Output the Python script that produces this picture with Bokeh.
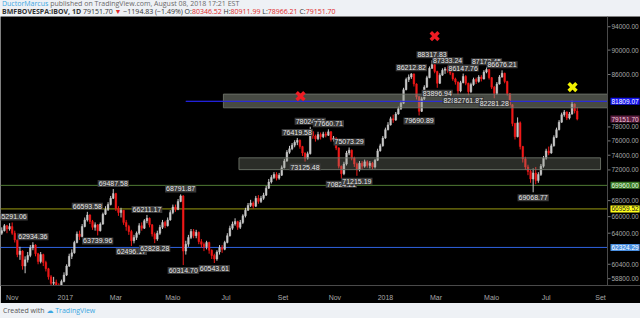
from bokeh.plotting import figure
from bokeh.models import Range1d, FixedTicker, Label, Div, ColumnDataSource, Span
from bokeh.layouts import column
from bokeh.embed import file_html
from bokeh.resources import INLINE

# ---------------- data ----------------
first_open = 64000
closes = [64300, 64900, 64500, 64800, 64000, 63200, 61500, 61900, 60200, 60900,
          61400, 62300, 62600, 61600, 60700, 61500, 60600, 59900, 59000, 58300,
          58400, 58100, 57900, 58500, 59200, 60200, 61300, 61700, 62900, 63900,
          63600, 64800, 65600, 66200, 65400, 64700, 65000, 64300, 65100, 66300,
          66900, 67500, 68300, 68900, 67000, 66500, 66800, 65300, 64800, 64200,
          63100, 63500, 64000, 64900, 64600, 65500, 65800, 65000, 63900, 63300,
          64000, 64700, 65300, 64900, 65600, 66500, 67200, 66900, 67900, 68600,
          61900, 62700, 63500, 64200, 63700, 64100, 63000, 62700, 62400, 62900,
          62000, 61400, 61000, 61800, 62300, 62100, 62900, 63700, 64600, 65100,
          65400, 64700, 65300, 66100, 66800, 67400, 67700, 67300, 68300, 67900,
          68300, 68700, 69600, 70400, 71000, 71400, 70900, 71300, 72300, 73200,
          74400, 74900, 75400, 75800, 76100, 75200, 74300, 73600, 74200, 77300,
          76700, 76300, 76900, 76600, 77000, 76800, 77300, 76200, 76400, 75000,
          72500, 71500, 72800, 74300, 74700, 73600, 72800, 72000, 72900, 72500,
          73100, 72600, 72900, 72400, 73300, 74600, 75300, 76400, 77600, 78300,
          79200, 79000, 79900, 80700, 81500, 83600, 85200, 85600, 86100, 84500,
          82500, 80300, 82200, 84000, 85500, 87000, 87600, 86500, 84600, 85900,
          86700, 86900, 86600, 86200, 85300, 84800, 83400, 84700, 85700, 84600,
          83300, 84400, 85200, 84900, 85600, 85300, 86400, 86800, 85500, 84000,
          83000, 84500, 85600, 86200, 84900, 83000, 81300, 78500, 76600, 78600,
          75200, 73500, 72400, 71800, 70800, 71600, 70600, 71400, 72500, 73600,
          74600, 74300, 75300, 76500, 77600, 78700, 79800, 80200, 79300, 79900,
          81400, 80346.52, 79151.70]
highs = [64700, 65100, 65000, 65200, 65291.06, 64300, 63300, 62400, 62000, 61300,
         61800, 62600, 62934.36, 62700, 61700, 61800, 61600, 60800, 60000, 59200,
         59000, 58700, 58300, 58700, 59500, 60400, 61600, 62100, 63100, 64200,
         64300, 65100, 65900, 66593.58, 66300, 65600, 65300, 65100, 65300, 66500,
         67300, 67800, 68600, 69487.58, 69000, 67300, 67100, 66800, 65600, 65000,
         64400, 63800, 64200, 65200, 65300, 65700, 66211.17, 65900, 65100, 64100,
         64300, 65000, 65600, 65500, 65900, 66800, 67500, 67500, 68200, 68791.87,
         68700, 63100, 63800, 64500, 64500, 64400, 64200, 63300, 62900, 63100,
         63000, 62100, 61600, 62000, 62600, 62600, 63100, 64000, 64900, 65400,
         65800, 65500, 65600, 66300, 67100, 67700, 68100, 67900, 68600, 68700,
         68600, 69000, 69900, 70800, 71300, 71700, 71700, 71600, 72600, 73500,
         74700, 75300, 75700, 76100, 76419.58, 76200, 75300, 74400, 74500, 78024.86,
         77400, 76900, 77300, 77200, 77300, 77300, 77660.71, 77400, 76700, 76500,
         75100, 72600, 73100, 74600, 75073.29, 74800, 73800, 73000, 73200, 73200,
         73400, 73300, 73200, 73100, 73500, 74900, 75600, 76700, 77900, 78700,
         79500, 79800, 80200, 81000, 81900, 83900, 85500, 86000, 86212.82, 86150,
         84600, 82600, 82500, 84300, 85800, 87300, 88317.83, 87700, 86600, 86200,
         87000, 87200, 87333.24, 86800, 86300, 85500, 84900, 85000, 86147.76, 85900,
         84700, 84700, 85500, 85500, 85900, 85900, 86700, 87172.45, 86900, 85600,
         84200, 84800, 85900, 86676.21, 86300, 85000, 83100, 81400, 78600, 79400,
         78800, 75300, 73800, 72700, 72000, 72200, 72400, 71700, 72800, 73900,
         74900, 75200, 75600, 76800, 77900, 79000, 80100, 80500, 80300, 80200,
         81900, 81500, 80911.99]
lows = [63800, 64200, 64000, 64300, 63800, 62900, 61200, 60900, 59800, 59400,
        60600, 61200, 62000, 61300, 60400, 60500, 60200, 59600, 58700, 57900,
        58000, 57700, 57400, 57800, 58400, 59100, 60100, 61000, 61600, 62800,
        63200, 63500, 64700, 65400, 65100, 64400, 64300, 63739.96, 64200, 65000,
        66200, 66700, 67400, 68200, 66700, 66100, 65900, 65000, 64300, 63800,
        62496.17, 62800, 63200, 63800, 64300, 64500, 65200, 64700, 63600, 62828.28,
        63100, 63800, 64500, 64600, 64800, 65500, 66300, 66600, 66800, 67800,
        60314.70, 61500, 62400, 63300, 63400, 63400, 62700, 62300, 61900, 62100,
        61600, 61000, 60543.61, 60800, 61500, 61700, 62000, 62800, 63600, 64400,
        64900, 64400, 64500, 65100, 65900, 66700, 67200, 67000, 67200, 67600,
        67700, 68100, 68600, 69500, 70200, 70800, 70600, 70700, 71200, 72200,
        73100, 74200, 74700, 75100, 75400, 74900, 73900, 73125.48, 73400, 74100,
        76300, 75900, 76100, 76200, 76400, 76500, 76700, 75900, 75900, 74700,
        72200, 70824.21, 71300, 72600, 74000, 73300, 72400, 71215.19, 71800, 72100,
        72300, 72300, 72200, 72100, 72200, 73200, 74500, 75200, 76300, 77500,
        78200, 78600, 78900, 79800, 80500, 81400, 83500, 84800, 85300, 84100,
        82100, 79690.89, 80200, 82000, 83900, 85400, 86900, 86200, 83896.94, 84500,
        85800, 86100, 86300, 85900, 85000, 84400, 82835.02, 83200, 84600, 84300,
        82761.87, 83100, 84200, 84500, 84700, 84900, 85200, 86200, 85200, 83700,
        82281.28, 82800, 84400, 85500, 84600, 82700, 81000, 78100, 76200, 76500,
        74800, 73000, 72000, 71300, 70300, 69068.77, 70100, 70300, 71200, 72300,
        73400, 74000, 74200, 75200, 76400, 77500, 78600, 79500, 79000, 79100,
        79800, 80000, 78966.21]
bar_index = list(range(1, 2 * len(closes), 2))   # trading-day index of each candle

month_ticks = [9, 50, 89, 133, 174, 218, 258, 297, 336, 379, 421, 463]
month_labels = ["Nov", "2017", "Mar", "Maio", "Jul", "Set", "Nov", "2018", "Mar", "Maio", "Jul", "Set"]
price_ticks = [58800, 60400, 64000, 66000, 68000, 72000, 74000, 76000, 78000, 86000, 90000, 94000]

# pivot high / low labels (candle number, side)
pivot_k = [4, 12, 33, 37, 43, 50, 56, 59, 69, 70, 82, 114, 117, 119, 126, 131, 134, 137,
           158, 161, 166, 168, 172, 176, 178, 180, 187, 190, 193, 205]
pivot_side = ["H", "H", "H", "L", "H", "L", "H", "L", "H", "L", "L", "H", "L", "H", "H", "L", "H", "L",
              "H", "L", "H", "L", "H", "L", "H", "L", "H", "L", "H", "L"]

# horizontal levels
level_price = [81809.07, 69960.00, 66959.52, 62324.29]
level_start = [143, 0, 0, 0]
level_line = ["#2323e0", "#4f7a33", "#9a9a12", "#2f63e0"]
level_bg = ["#1414ee", "#3a7a26", "#ffff1a", "#4a8fe0"]
level_fg = ["#ffffff", "#e6ffe0", "#222222", "#ffffff"]
last_close = 79151.70

# zones (rectangles)
zone_left = [172, 184]
zone_right = [468.4, 463]
zone_bottom = [80830, 72040]
zone_top = [82920, 73640]
zone_alpha = [0.5, 0.3]

# X markers
mark_x = [231.5, 335, 441.4]
mark_y = [82620, 92370, 83995]
mark_color = ["#ee1c24", "#ee1c24", "#f2f200"]

UP = "#c9c9c9"
DOWN = "#f01818"

# ---------------- figure ----------------
opens = [first_open] + closes[:-1]
colors = [UP if c >= o else DOWN for o, c in zip(opens, closes)]
src = ColumnDataSource(dict(
    x=bar_index, high=highs, low=lows,
    top=[max(o, c) for o, c in zip(opens, closes)],
    bottom=[min(o, c) for o, c in zip(opens, closes)],
    color=colors))

PX = 1.296                 # pixels per trading day
X_END = 607 / PX           # right edge of the price pane (price scale to its right)
X_MAX = 640 / PX
p = figure(width=640, height=287, x_range=Range1d(0, X_MAX), y_range=Range1d(58060, 95810),
           y_axis_type="log", y_axis_location=None,
           output_backend="svg", toolbar_location=None,
           background_fill_color="#000000", border_fill_color="#000000",
           min_border_left=0, min_border_top=0, min_border_right=0, min_border_bottom=13)
p.outline_line_color = None
p.grid.visible = False

# level lines
for lp, ls, lc in zip(level_price, level_start, level_line):
    p.line(x=[ls, X_END], y=[lp, lp], line_color=lc, line_width=1)

p.segment(x0="x", y0="low", x1="x", y1="high", line_color="color", line_width=1, source=src)
p.vbar(x="x", width=1.25, top="top", bottom="bottom", fill_color="color", line_color="color",
       line_width=0.5, source=src)

# zones drawn over candles, semi transparent
for zl, zr, zb, zt, za in zip(zone_left, zone_right, zone_bottom, zone_top, zone_alpha):
    p.quad(left=[zl], right=[min(zr, X_END)], bottom=[zb], top=[zt], fill_color="#8e9486", fill_alpha=za,
           line_color="#6d7268", line_alpha=0.9, line_width=1)

# blue level line over zone
p.line(x=[level_start[0], X_END], y=[level_price[0]] * 2, line_color=level_line[0], line_width=1)

p.scatter(x=mark_x, y=mark_y, marker="x", size=11, line_width=3.5, line_color=mark_color)

# x axis (real axis)
xa = p.xaxis[0]
xa.ticker = FixedTicker(ticks=month_ticks)
xa.major_label_overrides = {t: l for t, l in zip(month_ticks, month_labels)}
xa.major_tick_line_color = None
xa.minor_tick_line_color = None
xa.axis_line_color = "#4a4a4a"
xa.major_label_text_color = "#a8a8a8"
xa.major_label_text_font = "Liberation Sans"
xa.major_label_text_font_size = "7px"
xa.major_label_standoff = 2

# price scale pane on the right
p.add_layout(Span(location=X_END, dimension="height", line_color="#4a4a4a", line_width=1))
tick_src = ColumnDataSource(dict(y=price_ticks, t=[f"{v:.2f}" for v in price_ticks]))
p.segment(x0=X_END, y0="y", x1=X_END + 3 / PX, y1="y", line_color="#777777", line_width=1, source=tick_src)
p.text(x=X_END + 4 / PX, y="y", text="t", text_align="left", text_baseline="middle",
       text_font={"value": "Liberation Sans"}, text_font_size="6.5px", text_color="#a8a8a8", source=tick_src)

for lp, bg, fg in zip(level_price + [last_close], level_bg + ["#5c1f40"], level_fg + ["#f4c8da"]):
    p.add_layout(Label(x=X_END + 3 / PX, y=lp, text=f"{lp:.2f}", text_align="left",
                       text_baseline="middle", text_font="Liberation Sans", text_font_size="6.5px",
                       text_color=fg, background_fill_color=bg, padding=1))

# pivot labels
for k, side in zip(pivot_k, pivot_side):
    val = highs[k] if side == "H" else lows[k]
    p.add_layout(Label(x=bar_index[k], y=val, text=f"{val:.2f}", text_align="center",
                       text_baseline="bottom" if side == "H" else "top",
                       y_offset=2 if side == "H" else -2,
                       text_font="Liberation Sans", text_font_size="7px", text_color="#e6e6e6",
                       background_fill_color="#3a3a3a", padding=1))

# ---------------- header / footer ----------------
header_html = (
    '<div style="white-space:nowrap;padding-left:2px;height:8px;line-height:8px">'
    '<span style="color:#3aa6e2">DuctorMarcus</span> published on TradingView.com, August 08, 2018 17:21 EST</div>'
    '<div style="white-space:nowrap;padding-left:2px;height:8px;line-height:8px;color:#333">'
    '<b>BMFBOVESPA:IBOV, 1D</b> 79151.70 <span style="color:#e02828">&#9660;</span> '
    '&minus;1194.83 (&minus;1.49%) O:<span style="color:#e02828">80346.52</span> '
    'H:<span style="color:#e02828">80911.99</span> L:<span style="color:#e02828">78966.21</span> '
    'C:<span style="color:#e02828">79151.70</span></div>'
)
header = Div(text=header_html, width=640, height=16, margin=(0, 0, 0, 0),
             styles={"background-color": "#eef1f5", "font-family": "Open Sans", "font-size": "7px",
                     "color": "#6a6a6a", "overflow": "hidden"})
footer_html = ('<div style="white-space:nowrap;padding-left:3px;padding-top:3px;line-height:9px">'
               'Created with <span style="color:#3aa6e2;font-family:DejaVu Sans">&#9729;</span> '
               '<span style="color:#3aa6e2">TradingView</span></div>')
footer = Div(text=footer_html, width=640, height=15, margin=(0, 0, 0, 0),
             styles={"background-color": "#eef1f5", "font-family": "Open Sans", "font-size": "7px",
                     "color": "#555555", "overflow": "hidden"})

layout = column(header, p, footer, spacing=0)
open("out.html", "w").write(file_html(layout, INLINE))
